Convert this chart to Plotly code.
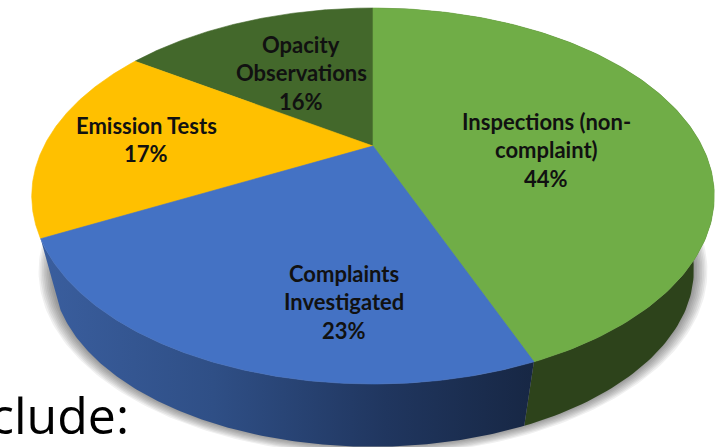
import numpy as np
import plotly.graph_objects as go

categories = ["Inspections (non-complaint)", "Complaints Investigated", "Emission Tests", "Opacity Observations"]
shares = [44.0, 23.3, 17.1, 15.6]
label_lines = [["Inspections (non-", "complaint)", "44%"],
               ["Complaints", "Investigated", "23%"],
               ["Emission Tests", "17%"],
               ["Opacity", "Observations", "16%"]]

# presentation (not data)
TOP_COLORS = ["#70AD47", "#4472C4", "#FFC000", "#43682B"]
SIDE_SCALES = [[[0, "#2D431B"], [1, "#2D431B"]],
               [[0, "#3A5E9E"], [0.35, "#2F4F86"], [0.7, "#20365F"], [1, "#172744"]]]
LABEL_CENTERS = [(546, 121), (344, 273), (146, 125), (301, 44)]
LINE_GAP = 28.5
CX, CY, A, B, K = 373, 146, 329, 174.7, 0.266
DROP, SHRINK = 77, 0.94


def project(theta, scale=1.0, dy=0.0):
    w = 1 + K * np.cos(theta)
    return CX + scale * A * np.sin(theta) / w, CY + dy + scale * B * np.cos(theta) * -1 / w


fig = go.Figure()

# soft drop shadow beneath the lower rim
full = np.linspace(0, 2 * np.pi, 361)
for grow in np.linspace(0.98, 0.945, 8):
    x, y = project(full, grow, DROP - 1)
    fig.add_trace(go.Scatter(x=x, y=y, mode="lines", fill="toself", line=dict(width=0),
                             fillcolor="rgba(0,0,0,0.06)", hoverinfo="skip", showlegend=False))

edges = 2 * np.pi * np.cumsum([0] + shares) / sum(shares)
order = [3, 2, 0, 1]
# side walls: only the two front slices show one
for i in (0, 1):
    t = np.linspace(edges[i], edges[i + 1], 160)
    xt, yt = project(t)
    xb, yb = project(t[::-1], SHRINK, DROP)
    fig.add_trace(go.Scatter(x=np.r_[xt, xb, xt[0]], y=np.r_[yt, yb, yt[0]], mode="lines", fill="toself",
                             line=dict(width=0), fillgradient=dict(type="horizontal", colorscale=SIDE_SCALES[i]),
                             hoverinfo="skip", showlegend=False))
# top face
for i in order:
    t = np.linspace(edges[i], edges[i + 1], 160)
    xt, yt = project(t)
    fig.add_trace(go.Scatter(x=np.r_[CX, xt, CX], y=np.r_[CY, yt, CY], mode="lines", fill="toself",
                             line=dict(width=0.6, color=TOP_COLORS[i]), fillcolor=TOP_COLORS[i],
                             name=categories[i], showlegend=False))

annotations = []
for lines, (lx, ly) in zip(label_lines, LABEL_CENTERS):
    for n, line in enumerate(lines):
        annotations.append(dict(x=lx, y=ly + n * LINE_GAP, text=f"<b>{line}</b>", showarrow=False,
                                xref="x", yref="y", font=dict(family="Lato", size=22, color="#111")))
annotations.append(dict(x=131, y=415, text="clude:", showarrow=False, xref="x", yref="y", xanchor="right",
                        font=dict(family="Open Sans", size=50, color="#000")))

fig.update_layout(width=723, height=447, margin=dict(l=0, r=0, t=0, b=0), paper_bgcolor="white",
                  plot_bgcolor="white", annotations=annotations, showlegend=False,
                  xaxis=dict(range=[0, 723], visible=False, fixedrange=True),
                  yaxis=dict(range=[447, 0], visible=False, fixedrange=True))
fig.write_html("out.html", config=dict(displayModeBar=False),
               post_script="document.body.style.margin='0';document.body.style.overflow='hidden';")
